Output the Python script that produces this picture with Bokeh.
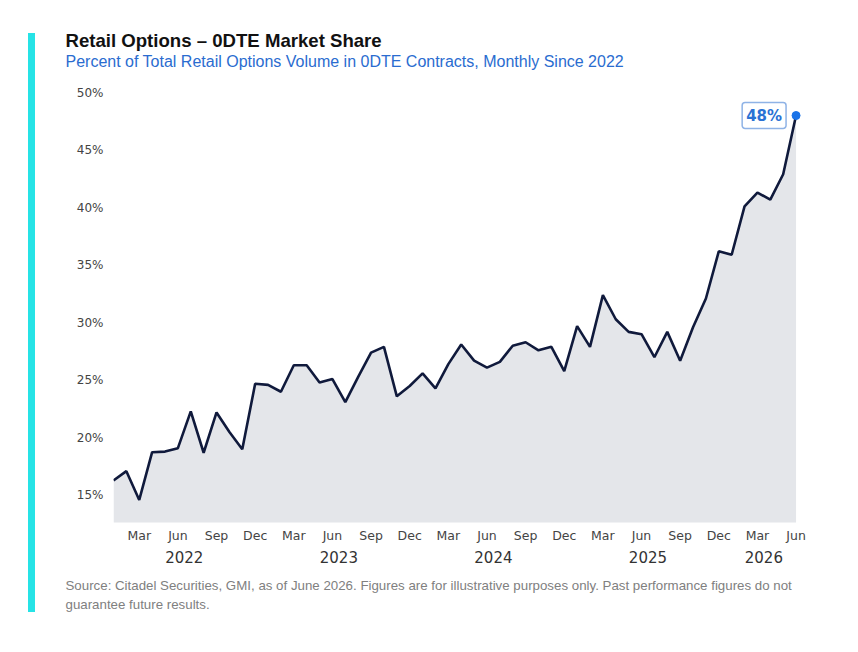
from bokeh.plotting import figure
from bokeh.models import (Range1d, FixedTicker, LinearAxis, Label, Title, Div,
                          ColumnDataSource)
from bokeh.layouts import row
from bokeh.embed import file_html
from bokeh.resources import INLINE

# ---------------- data ----------------
years = [2022, 2023, 2024, 2025, 2026]
month_names = ["Jan", "Feb", "Mar", "Apr", "May", "Jun",
               "Jul", "Aug", "Sep", "Oct", "Nov", "Dec"]
share_2022 = [16.3, 17.1, 14.6, 18.75, 18.8, 19.1, 22.3, 18.7, 22.2, 20.5, 19.0, 24.7]
share_2023 = [24.6, 24.0, 26.3, 26.3, 24.8, 25.1, 23.1, 25.3, 27.4, 27.9, 23.6, 24.5]
share_2024 = [25.6, 24.3, 26.4, 28.1, 26.7, 26.1, 26.6, 28.0, 28.3, 27.6, 27.9, 25.8]
share_2025 = [29.7, 27.9, 32.4, 30.3, 29.2, 29.0, 27.0, 29.2, 26.7, 29.6, 32.1, 36.2]
share_2026 = [35.9, 40.1, 41.3, 40.7, 42.9, 48.0]
y_ticks = [15, 20, 25, 30, 35, 40, 45, 50]
month_tick_names = ["Mar", "Jun", "Sep", "Dec"]

title_text = "Retail Options \u2013 0DTE Market Share"
subtitle_text = "Percent of Total Retail Options Volume in 0DTE Contracts, Monthly Since 2022"
source_line1 = ("Source: Citadel Securities, GMI, as of June 2026. Figures are for illustrative "
                "purposes only. Past performance figures do not")
source_line2 = "guarantee future results."

# ---------------- build series ----------------
values = share_2022 + share_2023 + share_2024 + share_2025 + share_2026
idx = list(range(len(values)))
labels = []
for y, arr in zip(years, [share_2022, share_2023, share_2024, share_2025, share_2026]):
    for m in range(len(arr)):
        labels.append(f"{month_names[m]} {y}")

Y0, Y1 = 12.64, 50.0
src = ColumnDataSource(dict(x=idx, y=values, base=[Y0 - 1] * len(values), lab=labels))

m_ticks, m_over = [], {}
for i, lab in enumerate(labels):
    mn = lab.split()[0]
    if mn in month_tick_names:
        m_ticks.append(i)
        m_over[i] = mn
yr_ticks, yr_over = [], {}
for y in years:
    ids = [i for i, lab in enumerate(labels) if lab.endswith(str(y))]
    c = (ids[0] + ids[-1]) / 2
    yr_ticks.append(c)
    yr_over[c] = str(y)

# ---------------- geometry ----------------
H = 630
BAR_W = 36                    # strip holding the cyan accent bar
W = 842 - BAR_W
LEFT, TOP = 113 - BAR_W, 92
FW, FH = 689, 430
X1 = len(values) - 1 + 0.5
TEXT_OFF = 65 - 113           # text left edge relative to frame left

bar = Div(text="", width=7, height=579, margin=(33, 1, 18, 28),
          styles={"background-color": "#26e3e6"})

p = figure(width=W, height=H, output_backend="svg", toolbar_location=None,
           x_range=Range1d(0, X1), y_range=Range1d(Y0, Y1),
           min_border_left=LEFT, min_border_right=W - LEFT - FW,
           min_border_top=TOP, min_border_bottom=H - TOP - FH)
p.outline_line_color = None
p.background_fill_color = "white"
p.border_fill_color = "white"
p.xgrid.visible = False
p.ygrid.visible = False

p.varea(x="x", y1="base", y2="y", source=src, fill_color="#e4e6ea")
p.line(x="x", y="y", source=src, line_color="#101a3c", line_width=2.6)
last = len(values) - 1
p.scatter(x=[idx[last]], y=[values[last]], size=8, fill_color="#1a73e8", line_color="#1a73e8")

# y axis
ya = p.yaxis[0]
ya.ticker = FixedTicker(ticks=y_ticks)
ya.major_label_overrides = {t: f"{t}%" for t in y_ticks}
ya.axis_line_color = None
ya.major_tick_line_color = None
ya.minor_tick_line_color = None
ya.major_tick_out = 0
ya.major_label_standoff = 10
ya.major_label_text_font = "DejaVu Sans"
ya.major_label_text_font_size = "12px"
ya.major_label_text_color = "#444444"

# month axis
xa = p.xaxis[0]
xa.ticker = FixedTicker(ticks=m_ticks)
xa.major_label_overrides = m_over
xa.axis_line_color = None
xa.major_tick_line_color = None
xa.minor_tick_line_color = None
xa.major_tick_out = 0
xa.major_label_standoff = 5
xa.major_label_text_font = "DejaVu Sans"
xa.major_label_text_font_size = "12.5px"
xa.major_label_text_color = "#444444"

# year axis
ya2 = LinearAxis(ticker=FixedTicker(ticks=yr_ticks), major_label_overrides=yr_over)
ya2.axis_line_color = None
ya2.major_tick_line_color = None
ya2.minor_tick_line_color = None
ya2.major_tick_out = 0
ya2.major_label_standoff = 5
ya2.major_label_text_font = "DejaVu Sans"
ya2.major_label_text_font_size = "15px"
ya2.major_label_text_color = "#333333"
p.add_layout(ya2, "below")

# end label
p.add_layout(Label(x=idx[last], y=values[last], x_offset=-10, text=f"{round(values[last])}%",
                   text_align="right", text_baseline="middle", text_font="DejaVu Sans",
                   text_font_style="bold", text_font_size="15px", text_color="#2a72d4",
                   background_fill_color="white", border_line_color="#8fb3e6",
                   border_line_width=1.5, padding=4, border_radius=3))

# title (outermost); blank spacer added first sits next to the frame, subtitle above it
p.title.text = title_text
p.title.align = "left"
p.title.offset = TEXT_OFF
p.title.standoff = 0
p.title.text_font = "Liberation Sans"
p.title.text_font_style = "bold"
p.title.text_font_size = "18.6px"
p.title.text_color = "#111111"
p.add_layout(Title(text=" ", align="left", offset=TEXT_OFF, standoff=20,
                   text_font="Liberation Sans", text_font_size="1px",
                   text_color="white"), "above")
p.add_layout(Title(text=subtitle_text, align="left", offset=TEXT_OFF, standoff=0,
                   text_font="Liberation Sans", text_font_style="normal",
                   text_font_size="16px", text_color="#2a6cd0"), "above")

# footnote (two lines in one title)
p.add_layout(Title(text=source_line1 + "\n" + source_line2, align="left", offset=TEXT_OFF,
                   standoff=21, text_font="Liberation Sans", text_font_style="normal",
                   text_font_size="13.3px", text_color="#808080",
                   text_line_height=1.25), "below")

open("out.html", "w").write(file_html(row(bar, p), INLINE))
